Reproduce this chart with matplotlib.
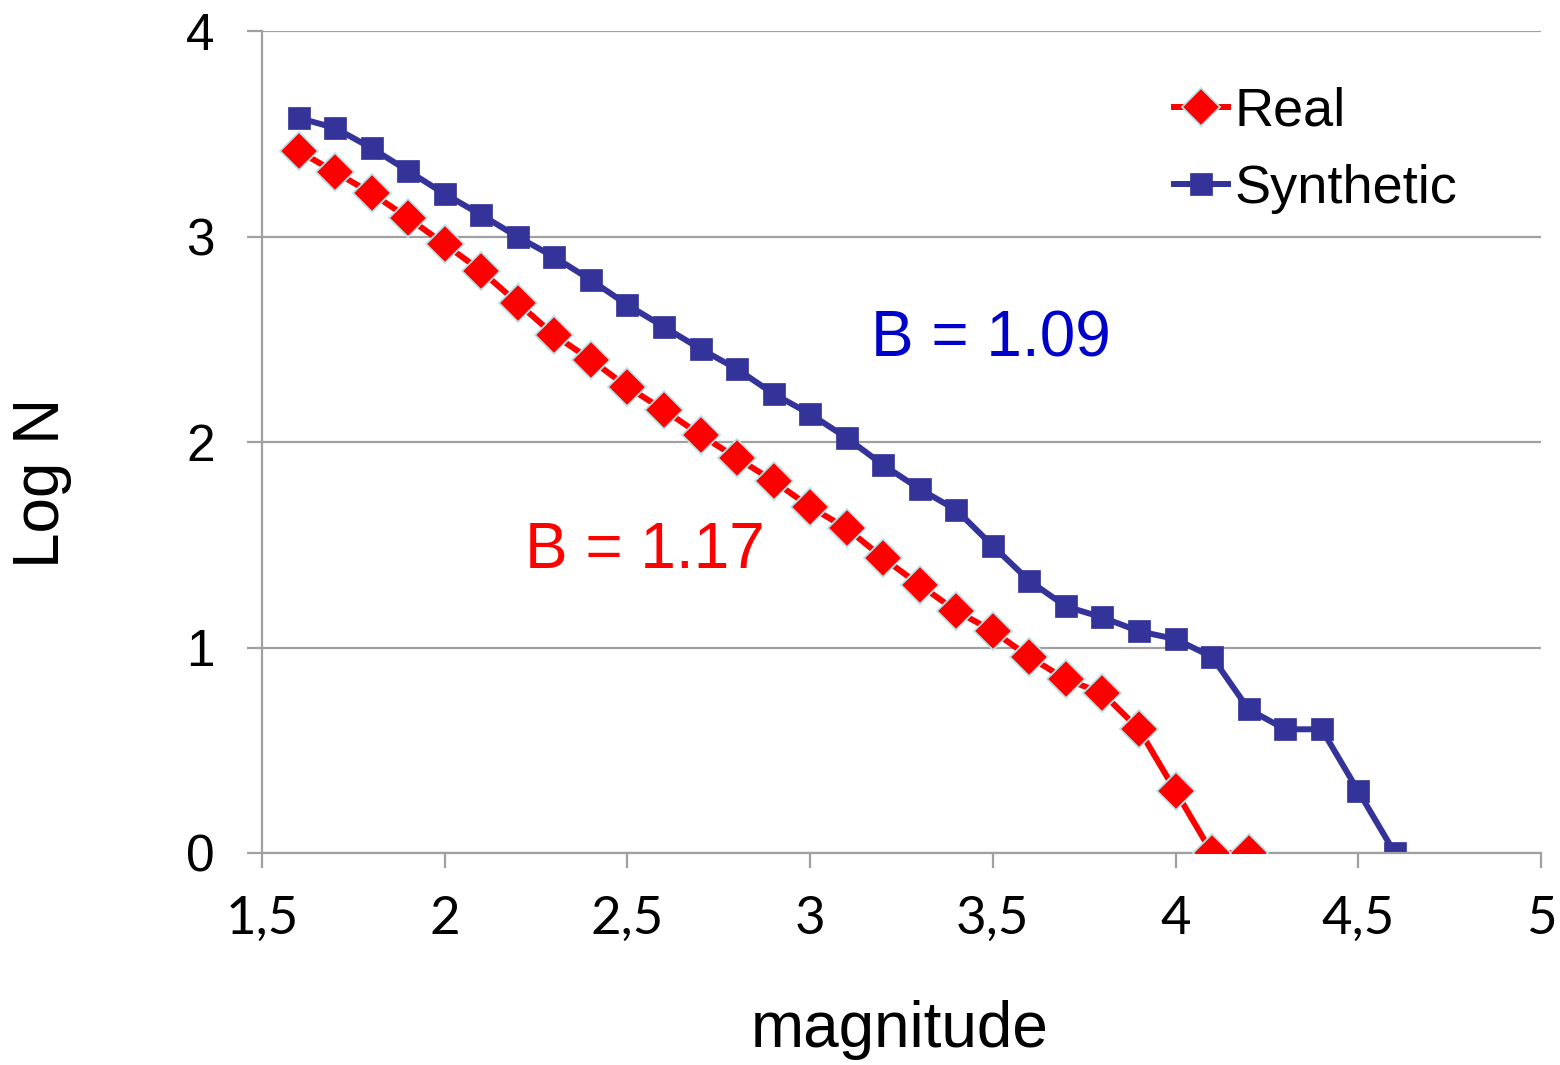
import matplotlib
matplotlib.use("Agg")
import matplotlib.pyplot as plt
from matplotlib.ticker import FixedLocator, FuncFormatter

# Magnitude bins and cumulative counts (log10 N)
mag_real = [1.6, 1.7, 1.8, 1.9, 2.0, 2.1, 2.2, 2.3, 2.4, 2.5, 2.6, 2.7, 2.8, 2.9,
            3.0, 3.1, 3.2, 3.3, 3.4, 3.5, 3.6, 3.7, 3.8, 3.9, 4.0, 4.1, 4.2]
logn_real = [3.416, 3.314, 3.21, 3.09, 2.963, 2.832, 2.676, 2.52, 2.40, 2.268,
             2.156, 2.034, 1.922, 1.81, 1.684, 1.58, 1.435, 1.304, 1.178, 1.08,
             0.954, 0.845, 0.778, 0.602, 0.301, 0.0, 0.0]

mag_synth = [1.6, 1.7, 1.8, 1.9, 2.0, 2.1, 2.2, 2.3, 2.4, 2.5, 2.6, 2.7, 2.8, 2.9,
             3.0, 3.1, 3.2, 3.3, 3.4, 3.5, 3.6, 3.7, 3.8, 3.9, 4.0, 4.1, 4.2,
             4.3, 4.4, 4.5, 4.6]
logn_synth = [3.577, 3.528, 3.43, 3.319, 3.207, 3.105, 2.998, 2.90, 2.788, 2.667,
              2.56, 2.453, 2.355, 2.234, 2.136, 2.02, 1.888, 1.771, 1.669, 1.494,
              1.324, 1.20, 1.146, 1.079, 1.041, 0.954, 0.699, 0.602, 0.602, 0.301,
              0.0]

x_ticks = [1.5, 2.0, 2.5, 3.0, 3.5, 4.0, 4.5, 5.0]
y_ticks = [0, 1, 2, 3, 4]

b_real_label = "B = 1.17"
b_synth_label = "B = 1.09"

RED = "#FF0000"
BLUE = "#333399"
EDGE = "#B8E4E8"
GRID = "#A0A0A0"

fig = plt.figure(figsize=(15.6, 10.65), dpi=100)
ax = fig.add_axes([262 / 1560, 1 - 853 / 1065, (1541 - 262) / 1560, (853 - 31) / 1065])

ax.plot(mag_real, logn_real, color=RED, lw=4.3, marker="D", markersize=19,
        markerfacecolor=RED, markeredgecolor=EDGE, markeredgewidth=1.3,
        label="Real", zorder=3)
ax.plot(mag_synth, logn_synth, color=BLUE, lw=4.3, marker="s", markersize=15.5,
        markerfacecolor=BLUE, markeredgecolor=BLUE, markeredgewidth=0.5,
        label="Synthetic", zorder=2)

ax.set_xlim(1.5, 5.0)
ax.set_ylim(0, 4)
ax.xaxis.set_major_locator(FixedLocator(x_ticks))
ax.yaxis.set_major_locator(FixedLocator(y_ticks))
ax.xaxis.set_major_formatter(FuncFormatter(lambda v, p: f"{v:g}".replace(".", ",")))
ax.yaxis.set_major_formatter(FuncFormatter(lambda v, p: f"{v:g}"))

ax.grid(axis="y", color=GRID, lw=1.6, zorder=0)
ax.set_axisbelow(True)
for side in ("top", "right"):
    ax.spines[side].set_visible(False)
for side in ("left", "bottom"):
    ax.spines[side].set_color(GRID)
    ax.spines[side].set_linewidth(1.6)

ax.tick_params(axis="both", direction="out", length=11, width=1.6, color=GRID)
ax.tick_params(axis="x", pad=20)
ax.tick_params(axis="y", pad=23)
for lbl in ax.get_xticklabels():
    lbl.set_fontfamily("Lato")
    lbl.set_fontsize(38)
for lbl in ax.get_yticklabels():
    lbl.set_fontfamily("Liberation Sans")
    lbl.set_fontsize(37)

fig.text(42 / 1560, 1 - 483 / 1065, "Log N", rotation=90, ha="center", va="center",
         fontsize=46, family="Liberation Sans")
fig.text(900 / 1560, 1 - 1030 / 1065, "magnitude", ha="center", va="center",
         fontsize=46, family="Liberation Sans")

ax.text(2.548, 1.47, b_real_label, color=RED, fontsize=46, family="Liberation Sans",
        ha="center", va="center")
ax.text(3.495, 2.50, b_synth_label, color="#0000CC", fontsize=46,
        family="Liberation Sans", ha="center", va="center")

leg = ax.legend(loc="upper left", bbox_to_anchor=(1174 / 1560, 1 - 87 / 1065),
                bbox_transform=fig.transFigure, frameon=False,
                prop={"family": "Liberation Sans", "size": 39},
                handlelength=1.0, handletextpad=0.12, labelspacing=0.5,
                borderaxespad=0, borderpad=0)

fig.savefig("out.png", dpi=100)
